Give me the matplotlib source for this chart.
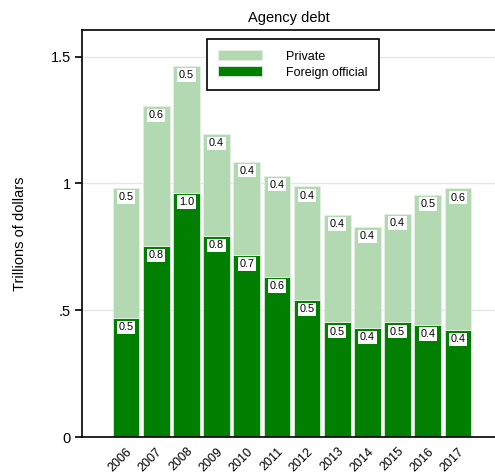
import matplotlib
matplotlib.use("Agg")
import matplotlib.pyplot as plt
import numpy as np

years = ["2006", "2007", "2008", "2009", "2010", "2011", "2012", "2013", "2014", "2015", "2016", "2017"]
foreign_official = [0.469, 0.752, 0.963, 0.792, 0.718, 0.632, 0.540, 0.452, 0.430, 0.452, 0.442, 0.422]
private = [0.514, 0.552, 0.501, 0.403, 0.368, 0.399, 0.448, 0.424, 0.397, 0.428, 0.513, 0.558]
yticks = [0, 0.5, 1, 1.5]
ytick_labels = ["0", ".5", "1", "1.5"]

dark = "#007f00"
light = "#b3d9b3"

plt.rcParams["font.family"] = ["Liberation Sans", "DejaVu Sans"]
fig = plt.figure(figsize=(4.95, 4.76), dpi=100)
ax = fig.add_axes([0.1657, 0.0819, 0.8343, 0.8551])

x = np.arange(len(years))
w = 0.88
ax.bar(x, foreign_official, width=w, color=dark, edgecolor="#d8ecd8", linewidth=0.6,
       label="Foreign official", zorder=2)
ax.bar(x, private, width=w, bottom=foreign_official, color=light, edgecolor="#e4f2e4",
       linewidth=0.6, label="Private", zorder=2)

box = dict(boxstyle="square,pad=0.15", fc="white", ec="none")
for xi, f, p in zip(x, foreign_official, private):
    ax.annotate(f"{f:.1f}", (xi, f), xytext=(0, -3), textcoords="offset points",
                ha="center", va="top", fontsize=7.8, bbox=box, zorder=3)
    ax.annotate(f"{p:.1f}", (xi, f + p), xytext=(0, -3), textcoords="offset points",
                ha="center", va="top", fontsize=7.8, bbox=box, zorder=3)

ax.set_xlim(-1.46, 12.23)
ax.set_ylim(0, 1.605)
ax.set_yticks(yticks)
ax.set_yticklabels(ytick_labels, fontsize=10.5)
ax.set_xticks(x)
ax.set_xticklabels(years, rotation=45, ha="right", rotation_mode="anchor", fontsize=9)
ax.tick_params(axis="x", length=0, pad=6)
ax.tick_params(axis="y", length=5, width=1.2, pad=3)
ax.grid(axis="y", color="#e6e6e6", linewidth=1, zorder=0)
ax.set_axisbelow(True)
for s in ["left", "bottom", "top"]:
    ax.spines[s].set_linewidth(1.2)
ax.spines["right"].set_visible(False)

ax.set_ylabel("Trillions of dollars", fontsize=10.5, labelpad=17)
ax.set_title("Agency debt", fontsize=10.5, pad=6)

handles, labels = ax.get_legend_handles_labels()
leg = ax.legend(handles[::-1], labels[::-1], loc="upper left",
                bbox_to_anchor=(207 / 495, 1 - 39 / 476), bbox_transform=fig.transFigure,
                fontsize=9, handlelength=3.5, handleheight=0.85, handletextpad=1.9,
                borderpad=0.9, labelspacing=0.3, fancybox=False, framealpha=1,
                edgecolor="black", borderaxespad=0)
leg.get_frame().set_linewidth(1.2)
leg.set_zorder(5)

fig.savefig("out.png", dpi=100)
